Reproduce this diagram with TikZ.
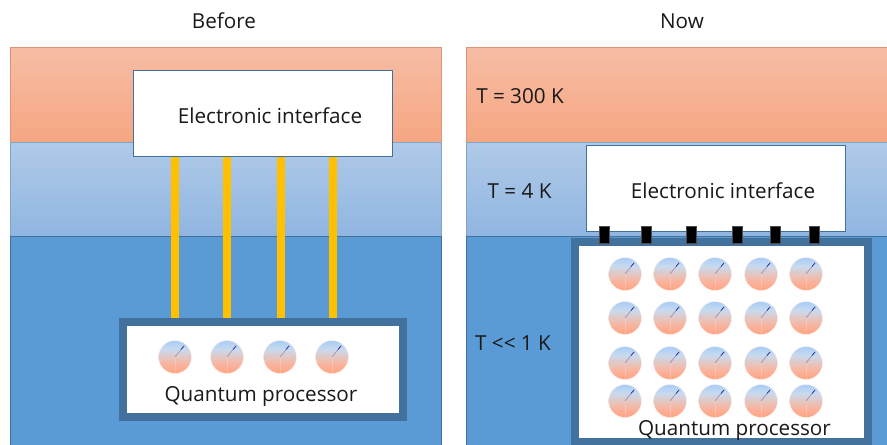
\documentclass[tikz,border=0pt]{standalone}
\usepackage{fontspec}
\setmainfont{Open Sans}
\usepackage{tikz}
\usetikzlibrary{positioning}
\definecolor{hotTop}{HTML}{F6BDA5}
\definecolor{hotBot}{HTML}{F6A681}
\definecolor{midTop}{HTML}{B0CAE8}
\definecolor{midBot}{HTML}{90B5E1}
\definecolor{coldBlue}{HTML}{5B9BD5}
\definecolor{frameBlue}{HTML}{41719C}
\definecolor{wireGold}{HTML}{FFC000}
\definecolor{qubitTop}{HTML}{A8CDF6}
\definecolor{qubitPale}{HTML}{C8DAEF}
\definecolor{qubitMid}{HTML}{E6C4BC}
\definecolor{qubitLow}{HTML}{FAB29C}
\definecolor{qubitBot}{HTML}{FFA37F}
\pgfdeclareverticalshading{qubitShade}{100bp}{
  color(0bp)=(qubitBot); color(25bp)=(qubitBot); color(38bp)=(qubitLow);
  color(49bp)=(qubitMid); color(62bp)=(qubitPale); color(75bp)=(qubitTop);
  color(100bp)=(qubitTop)}
\begin{document}
\begin{tikzpicture}[
  x=0.75pt, y=-0.75pt,
  every node/.style={font=\fontsize{15.5}{17}\selectfont, text=black!90},
  hot/.style={rectangle, minimum height=71.25pt, anchor=north west, inner sep=0pt,
              top color=hotTop, bottom color=hotBot, draw=hotBot!90!black, line width=0.5pt},
  mid/.style={rectangle, minimum height=70.5pt, anchor=north west, inner sep=0pt,
              top color=midTop, bottom color=midBot, draw=midBot!90!black, line width=0.5pt},
  cold/.style={rectangle, anchor=north west, inner sep=0pt, fill=coldBlue,
               draw=frameBlue, line width=0.5pt},
  iface/.style={rectangle, draw=frameBlue, line width=1.1pt, fill=white, inner sep=0pt,
                minimum width=194pt, minimum height=64.5pt, anchor=north west},
  proc/.style={rectangle, draw=frameBlue, line width=6pt, fill=white, inner sep=0pt,
               anchor=north west},
  wire/.style={draw=wireGold, line width=5.3pt},
  pin/.style={rectangle, fill=black, draw=black!70, line width=0.3pt, inner sep=0pt,
              minimum width=7.5pt, minimum height=12.75pt},
  qubit/.style={circle, inner sep=0pt, minimum size=24.75pt, shading=qubitShade,
                draw=white!85!qubitBot, line width=0.3pt,
                path picture={
                  \draw[white, opacity=0.2, line width=0.2pt] (path picture bounding box.center) -- ++(0,17);
                  \draw[white, opacity=0.2, line width=0.2pt] (path picture bounding box.center) -- ++(-17,4);
                  \draw[white, opacity=0.2, line width=0.2pt] (path picture bounding box.center) -- ++(17,-3);
                  \draw[blue!30!gray, opacity=0.6, line width=0.4pt] (path picture bounding box.center) -- ++(6,-7.5);
                  \draw[blue!50!black, opacity=0.8, line width=0.6pt] (path picture bounding box.center) ++(6,-7.5) -- ++(3,-3.5);
                }},
  plain/.style={inner sep=0pt},
]
\useasboundingbox (0,0) rectangle (887,445);
% layers, left
\node[hot, minimum width=323.25pt] (hotA) at (10,47) {};
\node[mid, minimum width=323.25pt] (midA) at (10,142) {};
\node[cold, minimum width=323.25pt, minimum height=156.5pt] (coldA) at (10,236) {};
% layers, right
\node[hot, minimum width=315.75pt] (hotB) at (466,47) {};
\node[mid, minimum width=315.75pt] (midB) at (466,142) {};
\node[cold, minimum width=315.75pt, minimum height=156.5pt] (coldB) at (466,236) {};
% interfaces and processors
\node[iface] (ifaceA) at (133,70) {};
\node[iface] (ifaceB) at (586,145) {};
\node[proc, minimum width=210pt, minimum height=71.5pt] (procA) at (119,318) {};
\node[proc, minimum width=219.75pt, minimum height=150pt] (procB) at (571,238) {};
% qubits, left
\foreach \name/\px in {a/175, b/227, c/280, d/332} {
  \node[qubit] (qa\name) at (\px,357) {};
}
% qubits, right
\foreach \row/\py in {1/274, 2/318, 3/363, 4/401} {
  \foreach \col/\px in {1/625, 2/670, 3/715, 4/761, 5/806} {
    \node[qubit] (qb\row\col) at (\px,\py) {};
  }
}
% wires
\coordinate (wa) at (175,0);
\coordinate (wb) at (227,0);
\coordinate (wc) at (281,0);
\coordinate (wd) at (333,0);
\foreach \w in {wa, wb, wc, wd} {
  \draw[wire] (\w |- ifaceA.south) -- (\w |- procA.north);
}
% pins
\foreach \name/\px in {a/604, b/646, c/691, d/737, e/775, f/814} {
  \node[pin] (pin\name) at (\px,234.5) {};
}
% texts
\node[plain] (beforeLbl) at (224,21) {Before};
\node[plain] (nowLbl) at (682,21) {Now};
\node[plain] (ifaceTxtA) at (270,116) {Electronic interface};
\node[plain] (ifaceTxtB) at (723,191) {Electronic interface};
\node[plain] (procTxtA) at (261,396) {Quantum processor};
\node[plain] (procTxtB) at (734.5,430) {Quantum processor};
\node[plain] (tHot) at (520,96) {T = 300 K};
\node[plain] (tMid) at (519.5,191) {T = 4 K};
\node[plain] (tCold) at (513,343) {T <{}< 1 K};
\end{tikzpicture}
\end{document}
